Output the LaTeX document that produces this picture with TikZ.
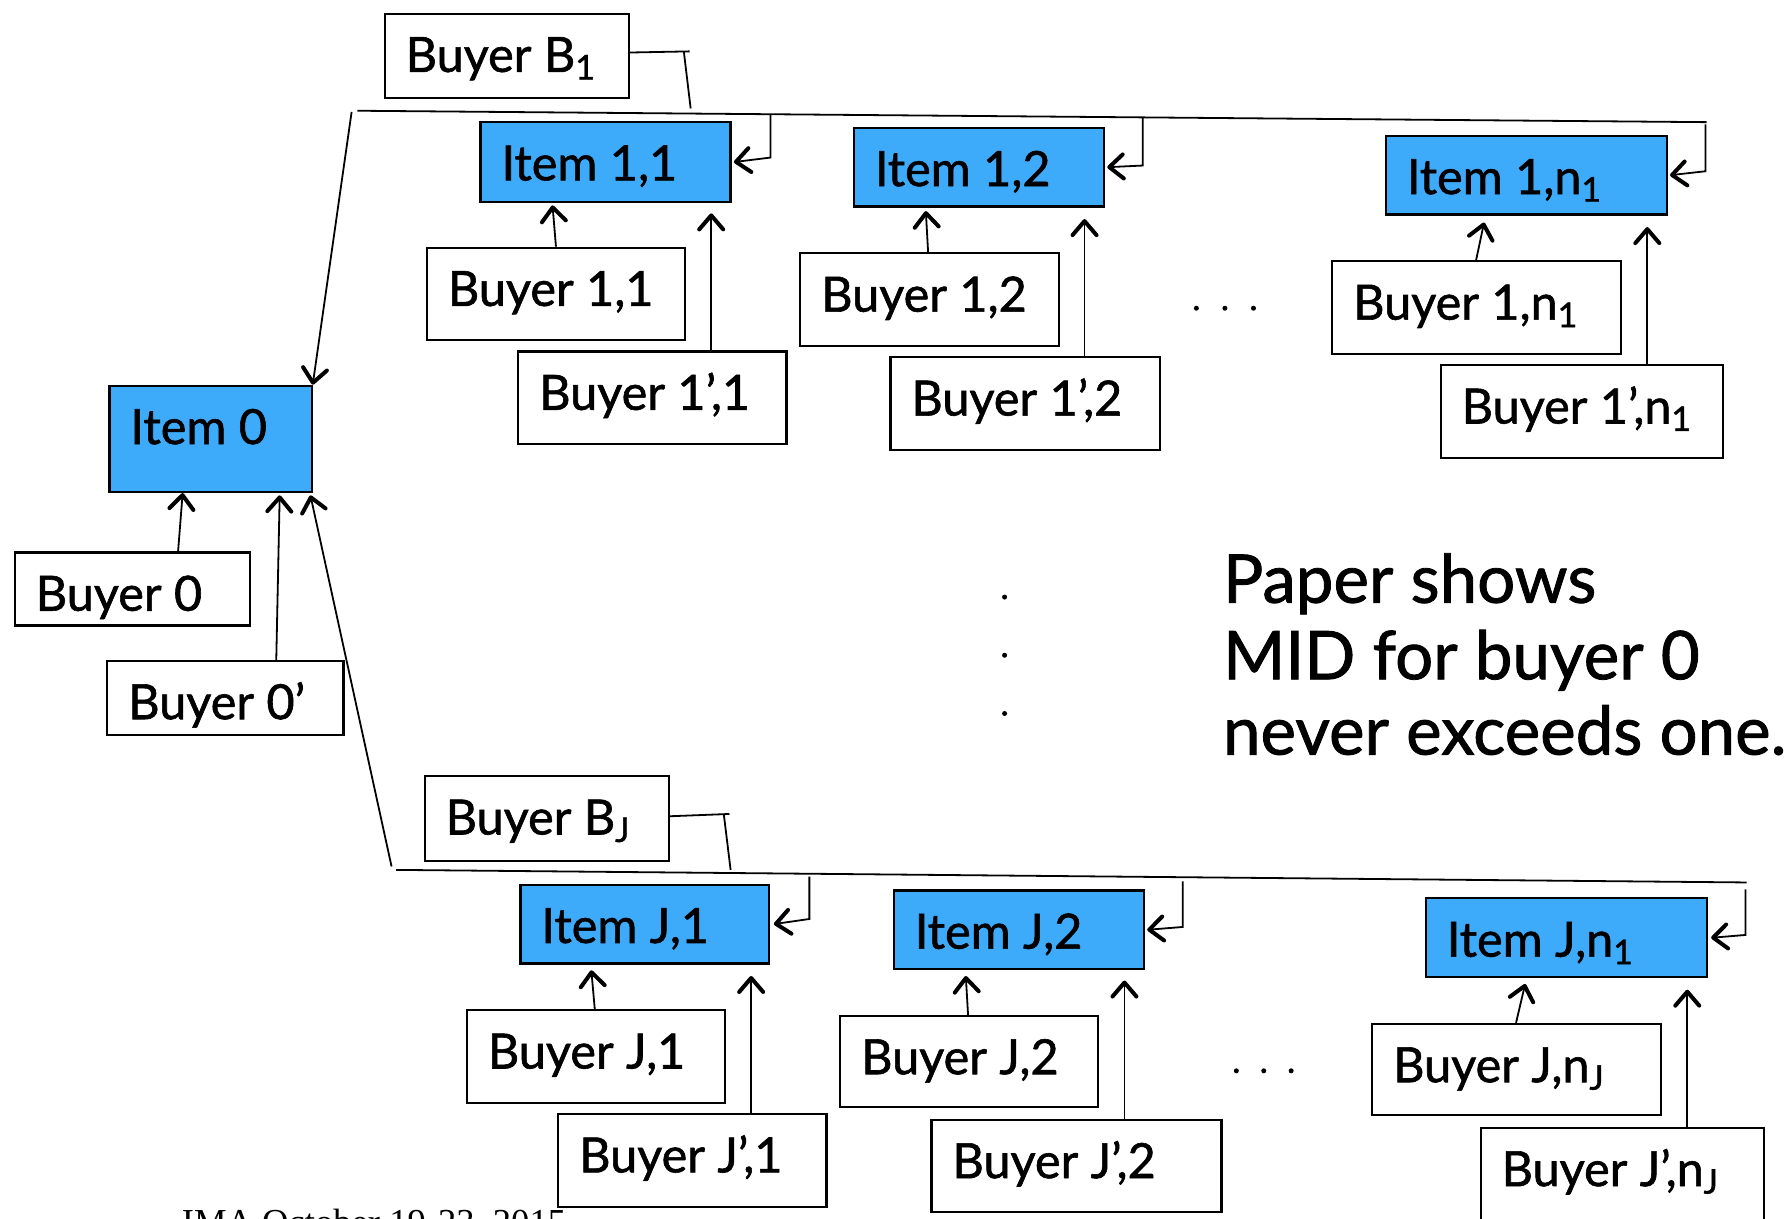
\documentclass[tikz,border=0pt]{standalone}
\usepackage{fontspec}
\setmainfont{Lato}[FakeBold=1.2]
\newfontfamily\footfont{Liberation Serif}
\usetikzlibrary{arrows.meta,calc}
\definecolor{itemblue}{RGB}{62,170,250}
\newcommand\unitpx{0.5708pt}
% box with its label: name, style, x, y (top left), width, height, text
\newcommand\boxat[7]{%
  \node[#2, minimum width=#5*\unitpx, minimum height=#6*\unitpx, anchor=north west] (#1) at (#3,#4) {};
  \node[boxtext] (#1-t) at ($(#1.north west)+(19,52)$) {#7};
}
\begin{document}
\begin{tikzpicture}[x=0.5708pt,y=-0.5708pt,
  itembox/.style={draw=black, fill=itemblue, line width=1.1pt, inner sep=0pt},
  buyerbox/.style={draw=black, fill=white, line width=1.1pt, inner sep=0pt},
  boxtext/.style={anchor=base west, inner sep=0pt, font=\fontsize{24.3}{28}\selectfont},
  bigtext/.style={anchor=base west, inner sep=0pt, font=\fontsize{33.6}{40}\selectfont},
  wire/.style={line width=0.9pt},
  arr/.style={line width=0.9pt, -{Straight Barb[length=7pt,width=12pt,line width=2pt,round]}}]
\fill[white] (0,0) rectangle (1568,1067);
\useasboundingbox (0,0) rectangle (1568,1067);

% ---- group 1 ----
\boxat{b1}{buyerbox}{336}{11}{214}{74}{Buyer B\textsubscript{1}}
\boxat{i11}{itembox}{420}{106}{219}{70}{Item 1,1}
\boxat{i12}{itembox}{747}{111}{219}{69}{Item 1,2}
\boxat{i1n}{itembox}{1213}{118}{246}{69}{Item 1,n\textsubscript{1}}
\boxat{b11}{buyerbox}{373}{216}{226}{81}{Buyer 1,1}
\boxat{b12}{buyerbox}{700}{221}{227}{81}{Buyer 1,2}
\boxat{b1n}{buyerbox}{1166}{228}{253}{81}{Buyer 1,n\textsubscript{1}}
\boxat{b11p}{buyerbox}{453}{307}{235}{81}{Buyer 1',1}
\boxat{b12p}{buyerbox}{779}{312}{236}{81}{Buyer 1',2}
\boxat{b1np}{buyerbox}{1261}{319}{247}{81}{Buyer 1',n\textsubscript{1}}

% ---- item 0 ----
\boxat{i0}{itembox}{95}{337}{177}{93}{Item 0}
\boxat{b0}{buyerbox}{12}{483}{206}{64}{Buyer 0}
\boxat{b0p}{buyerbox}{93}{578}{207}{65}{Buyer 0'}

% ---- group J ----
\boxat{bj}{buyerbox}{371}{679}{214}{74}{Buyer B\textsubscript{J}}
\boxat{ij1}{itembox}{455}{774}{218}{69}{Item J,1}
\boxat{ij2}{itembox}{782}{779}{219}{69}{Item J,2}
\boxat{ijn}{itembox}{1248}{786}{246}{69}{Item J,n\textsubscript{1}}
\boxat{bj1}{buyerbox}{408}{884}{226}{81}{Buyer J,1}
\boxat{bj2}{buyerbox}{735}{889}{226}{80}{Buyer J,2}
\boxat{bjn}{buyerbox}{1201}{896}{253}{80}{Buyer J,n\textsubscript{J}}
\boxat{bj1p}{buyerbox}{488}{975}{235}{81}{Buyer J',1}
\boxat{bj2p}{buyerbox}{815}{980}{254}{81}{Buyer J',2}
\boxat{bjnp}{buyerbox}{1296}{987}{248}{90}{Buyer J',n\textsubscript{J}}

% ---- bracket lines and bundle connectors ----
\coordinate (t1) at (313,97);
\coordinate (t2) at (1495,107);
\coordinate (u1) at (347,762);
\coordinate (u2) at (1530,773);
\draw[wire] (t1) -- (t2);
\draw[wire] (u1) -- (u2);

\coordinate (b1h) at (604,45);
\coordinate (b1v) at (599,45);
\coordinate (b1e) at (605,95);
\draw[wire] ($(b1.north east)+(0,35)$) -- (b1h);
\draw[wire] (b1v) -- (b1e);
\coordinate (bjh) at (639,713);
\coordinate (bjv) at (634,713);
\coordinate (bje) at (640,762);
\draw[wire] ($(bj.north east)+(0,36)$) -- (bjh);
\draw[wire] (bjv) -- (bje);

% feed lines into item 0
\coordinate (st) at (308,98);
\coordinate (sb) at (343,759);
\draw[arr] (st) -- (i0.north east);
\draw[arr] (sb) -- ($(i0.south east)+(-2,2)$);

% bracket arrows into the items
\coordinate (k11) at (675,100);
\coordinate (k12) at (1001,103);
\coordinate (k1n) at (1494,109);
\coordinate (kj1) at (709,768);
\coordinate (kj2) at (1036,772);
\coordinate (kjn) at (1529,779);
\draw[arr] (k11) -- ++(0,38) -- ($(i11.east)+(2,0)$);
\draw[arr] (k12) -- ++(0,42) -- ($(i12.east)+(2,0)$);
\draw[arr] (k1n) -- ++(0,41) -- ($(i1n.east)+(2,0)$);
\draw[arr] (kj1) -- ++(0,37) -- ($(ij1.east)+(3,0)$);
\draw[arr] (kj2) -- ++(0,40) -- ($(ij2.east)+(2,0)$);
\draw[arr] (kjn) -- ++(0,40) -- ($(ijn.east)+(3,0)$);

% buyer arrows
\draw[arr] ($(b11.north west)+(114,0)$) -- ($(i11.south west)+(64,2)$);
\draw[arr] ($(b11p.north west)+(170,0)$) -- ($(i11.south west)+(203,9)$);
\draw[arr] ($(b12.north west)+(113,0)$) -- ($(i12.south west)+(64,3)$);
\draw[arr] ($(b12p.north west)+(171,0)$) -- ($(i12.south west)+(203,10)$);
\draw[arr] ($(b1n.north west)+(127,0)$) -- ($(i1n.south west)+(87,6)$);
\draw[arr] ($(b1np.north west)+(182,0)$) -- ($(i1n.south west)+(230,10)$);
\draw[arr] ($(b0.north west)+(144,0)$) -- ($(i0.south west)+(65,0)$);
\draw[arr] ($(b0p.north west)+(149,0)$) -- ($(i0.south west)+(150,2)$);
\draw[arr] ($(bj1.north west)+(113,0)$) -- ($(ij1.south west)+(63,5)$);
\draw[arr] ($(bj1p.north west)+(170,0)$) -- ($(ij1.south west)+(203,10)$);
\draw[arr] ($(bj2.north west)+(113,0)$) -- ($(ij2.south west)+(64,5)$);
\draw[arr] ($(bj2p.north west)+(170,0)$) -- ($(ij2.south west)+(203,9)$);
\draw[arr] ($(bjn.north west)+(127,0)$) -- ($(ijn.south west)+(88,5)$);
\draw[arr] ($(bjnp.north west)+(182,0)$) -- ($(ijn.south west)+(230,10)$);

% ellipses
\foreach \x in {1048,1073,1098} \fill (\x,270) circle (2.2);
\foreach \x in {1083,1107,1131} \fill (\x,938) circle (2.2);
\foreach \y in {523,574,625} \fill (880,\y) circle (2.2);

% remark
\node[bigtext] (p1) at (1071,528) {Paper shows};
\node[bigtext] (p2) at (1071,595) {MID for buyer 0};
\node[bigtext] (p3) at (1071,661) {never exceeds one.};

% footer
\node[anchor=base west, inner sep=0pt, font=\footfont\fontsize{18.3}{22}\selectfont] (foot) at (159,1081) {IMA October 19-23, 2015};
\end{tikzpicture}
\end{document}
